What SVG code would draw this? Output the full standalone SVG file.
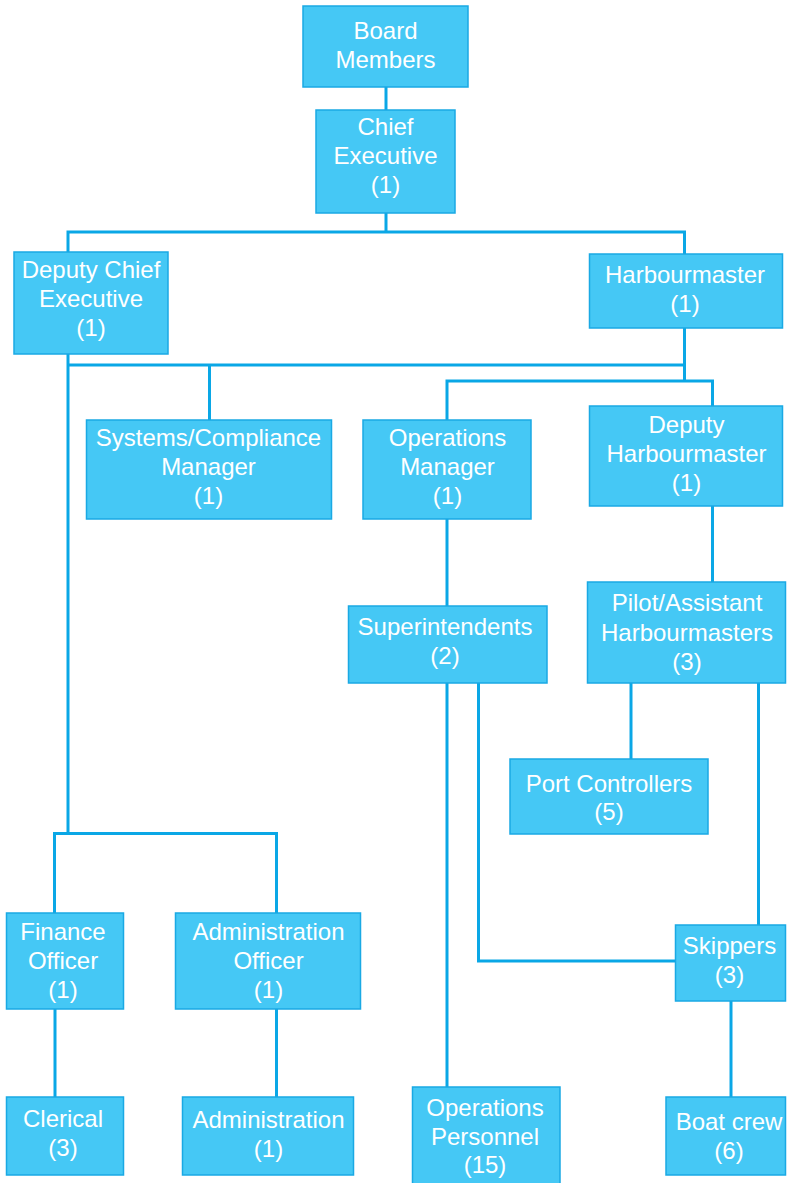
<svg xmlns="http://www.w3.org/2000/svg" width="788" height="1183" viewBox="0 0 788 1183">
<style>
.box{fill:#45c8f5;stroke:#1aa9e4;stroke-width:1.5}
.t{font-family:"Liberation Sans",Arial,sans-serif;font-size:24px;fill:#ffffff;text-anchor:middle}
.c{fill:none;stroke:#0aa7e6;stroke-width:3;stroke-linecap:square}
</style>
<rect width="788" height="1183" fill="#ffffff"/>
<g id="connectors">
<path class="c" d="M386 87V110"/>
<path class="c" d="M386 213V232M68 232H684.5M68 232V252M684.5 232V254"/>
<path class="c" d="M68 354V833.5M68 365H684.5M684.5 328V381M209.5 365V420M447 381H712.5M447 381V420M712.5 381V406"/>
<path class="c" d="M712.5 506V582"/>
<path class="c" d="M447 519V606"/>
<path class="c" d="M447 683V1087"/>
<path class="c" d="M478.5 683V961H675"/>
<path class="c" d="M631 683V759"/>
<path class="c" d="M758.5 683V925"/>
<path class="c" d="M731 1001V1097"/>
<path class="c" d="M54.5 833.5H276.5M54.5 833.5V913M276.5 833.5V913"/>
<path class="c" d="M55 1009V1097M276.5 1009V1097"/>
</g>
<g id="board"><rect class="box" x="303" y="6" width="165" height="81"/><text class="t" x="385.5" y="39">Board</text><text class="t" x="385.5" y="68">Members</text></g>
<g id="ce"><rect class="box" x="316" y="110" width="139" height="103"/><text class="t" x="385.5" y="135">Chief</text><text class="t" x="385.5" y="164">Executive</text><text class="t" x="385.5" y="193">(1)</text></g>
<g id="dce"><rect class="box" x="14" y="252" width="154" height="102"/><text class="t" x="91" y="278">Deputy Chief</text><text class="t" x="91" y="307">Executive</text><text class="t" x="91" y="336">(1)</text></g>
<g id="hm"><rect class="box" x="589.5" y="254" width="193" height="74"/><text class="t" x="685" y="283">Harbourmaster</text><text class="t" x="685" y="312">(1)</text></g>
<g id="scm"><rect class="box" x="86.5" y="420" width="245" height="99"/><text class="t" x="208.5" y="446">Systems/Compliance</text><text class="t" x="208.5" y="475">Manager</text><text class="t" x="208.5" y="504">(1)</text></g>
<g id="om"><rect class="box" x="363" y="420" width="168" height="99"/><text class="t" x="447.5" y="446">Operations</text><text class="t" x="447.5" y="475">Manager</text><text class="t" x="447.5" y="504">(1)</text></g>
<g id="dhm"><rect class="box" x="589.5" y="406" width="193" height="100"/><text class="t" x="686.5" y="433">Deputy</text><text class="t" x="686.5" y="462">Harbourmaster</text><text class="t" x="686.5" y="491">(1)</text></g>
<g id="pilot"><rect class="box" x="587.5" y="582" width="198" height="101"/><text class="t" x="687" y="611">Pilot/Assistant</text><text class="t" x="687" y="640.5">Harbourmasters</text><text class="t" x="687" y="670">(3)</text></g>
<g id="super"><rect class="box" x="348.5" y="606" width="198.5" height="77"/><text class="t" x="445" y="635">Superintendents</text><text class="t" x="445" y="664">(2)</text></g>
<g id="port"><rect class="box" x="510" y="759" width="198" height="75"/><text class="t" x="609" y="791.5">Port Controllers</text><text class="t" x="609" y="820">(5)</text></g>
<g id="fin"><rect class="box" x="6.5" y="913" width="117" height="96"/><text class="t" x="63" y="940">Finance</text><text class="t" x="63" y="969">Officer</text><text class="t" x="63" y="998">(1)</text></g>
<g id="adm"><rect class="box" x="175.5" y="913" width="185" height="96"/><text class="t" x="268.5" y="940">Administration</text><text class="t" x="268.5" y="969">Officer</text><text class="t" x="268.5" y="998">(1)</text></g>
<g id="skip"><rect class="box" x="675.5" y="925" width="110" height="76"/><text class="t" x="729.5" y="954">Skippers</text><text class="t" x="729.5" y="983">(3)</text></g>
<g id="cler"><rect class="box" x="6.5" y="1097" width="117" height="78"/><text class="t" x="63" y="1127">Clerical</text><text class="t" x="63" y="1156">(3)</text></g>
<g id="admin"><rect class="box" x="182.5" y="1097" width="171" height="78"/><text class="t" x="268.5" y="1127.5">Administration</text><text class="t" x="268.5" y="1156.5">(1)</text></g>
<g id="opp"><rect class="box" x="412.5" y="1087" width="147.5" height="100"/><text class="t" x="485" y="1116">Operations</text><text class="t" x="485" y="1144.5">Personnel</text><text class="t" x="485" y="1173">(15)</text></g>
<g id="boat"><rect class="box" x="666" y="1097" width="119.5" height="78"/><text class="t" x="729" y="1130">Boat crew</text><text class="t" x="729" y="1159">(6)</text></g>
</svg>
